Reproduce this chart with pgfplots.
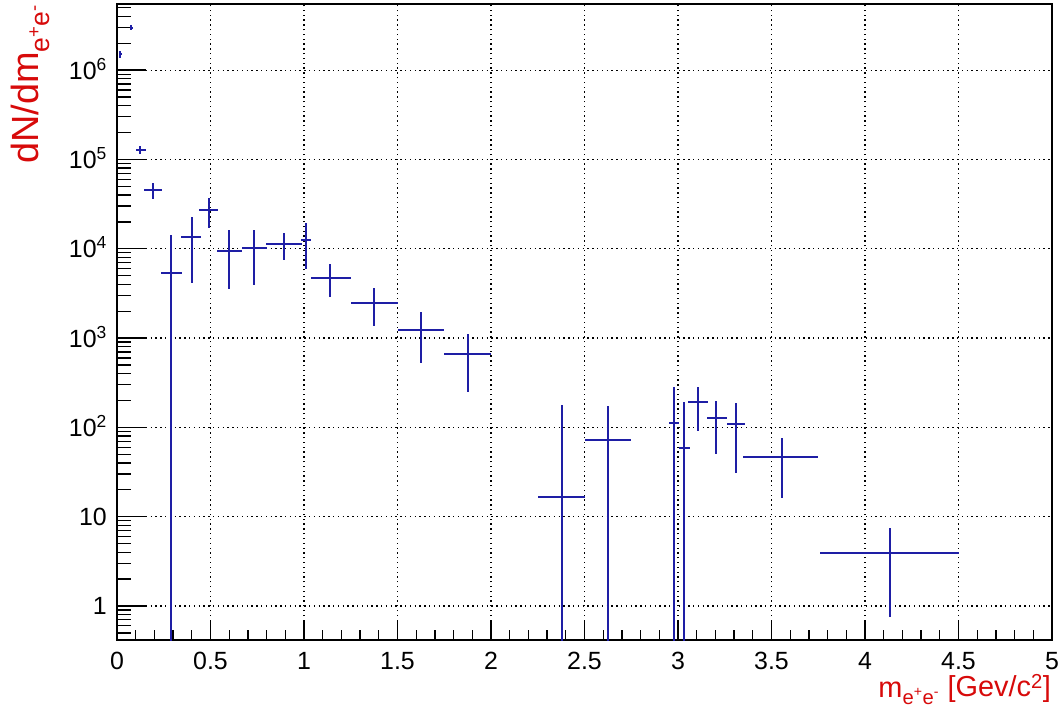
\documentclass[border=0pt]{standalone}
\usepackage{fontspec}
\setmainfont{Liberation Sans}
\usepackage{pgfplots}
\usepackage{pgfplotstable}
\pgfplotsset{compat=1.18}
\definecolor{rootblue}{RGB}{30,30,165}
\definecolor{rootred}{RGB}{215,10,10}

\pgfplotstableread{
x      y        exm    exp    eym      eyp
0.017  1.5e6    0.008  0.008  1.5e5    1.5e5
0.075  3.0e6    0.008  0.008  2e5      2e5
0.123  1.28e5   0.021  0.032  1.2e4    1.2e4
0.194  4.55e4   0.048  0.048  9e3      9e3
0.289  5.4e3    0.055  0.060  5399.9   8.7e3
0.400  1.35e4   0.058  0.049  9.4e3    9.4e3
0.490  2.7e4    0.050  0.050  1.0e4    1.0e4
0.599  9.5e3    0.066  0.068  6.0e3    6.7e3
0.733  1.03e4   0.066  0.067  6.4e3    5.9e3
0.895  1.12e4   0.100  0.093  3.7e3    3.7e3
1.011  1.25e4   0.027  0.025  6.5e3    6.7e3
1.139  4.75e3   0.103  0.111  1.85e3   2.0e3
1.374  2.45e3   0.124  0.126  1.08e3   1.22e3
1.626  1.23e3   0.126  0.124  708      710
1.879  669      0.129  0.121  418      431
2.381  16.6     0.131  0.119  16.5     162
2.627  72.8     0.127  0.123  72.7     102
2.979  113      0.026  0.026  112.9    173
3.030  58.3     0.025  0.034  58.2     133
3.105  191      0.050  0.055  99       95
3.203  128      0.048  0.057  78       71
3.312  109      0.052  0.048  78       77
3.554  47       0.204  0.196  31       30
4.132  3.95     0.372  0.368  3.2      3.46
}\datatable

\begin{document}
\begin{tikzpicture}
\useasboundingbox (0,0) rectangle (1062bp,711bp);
\begin{axis}[
  at={(117bp,71bp)}, anchor=south west,
  scale only axis, width=935bp, height=636bp,
  xmin=0, xmax=5,
  ymode=log, ymin=0.416, ymax=5.5e6,
  xtick={0,0.5,1,1.5,2,2.5,3,3.5,4,4.5,5},
  xticklabels={0,0.5,1,1.5,2,2.5,3,3.5,4,4.5,5},
  minor x tick num=4,
  ytick={1,10,100,1000,10000,100000,1000000},
  yticklabels={1,10,10\textsuperscript{2},10\textsuperscript{3},10\textsuperscript{4},10\textsuperscript{5},10\textsuperscript{6}},
  minor ytick={0.5,0.6,0.7,0.8,0.9,2,3,4,5,6,7,8,9,20,30,40,50,60,70,80,90,200,300,400,500,600,700,800,900,2000,3000,4000,5000,6000,7000,8000,9000,20000,30000,40000,50000,60000,70000,80000,90000,200000,300000,400000,500000,600000,700000,800000,900000,2000000,3000000,4000000,5000000},
  xtick pos=bottom, ytick pos=left,
  tick align=inside,
  xtick style={/pgfplots/major tick length=19bp,/pgfplots/minor tick length=10bp},
  ytick style={/pgfplots/major tick length=29bp,/pgfplots/minor tick length=14bp},
  major tick style={black, line width=1.3bp},
  minor tick style={black, line width=1.3bp},
  grid=major,
  major grid style={black, line width=1.1bp, dash pattern=on 1.3bp off 3.5bp},
  axis line style={black, line width=1.5bp},
  tick label style={font=\fontsize{25}{30}\selectfont},
  xticklabel style={anchor=north, inner sep=0pt, yshift=-12bp},
  yticklabel style={anchor=base east, inner sep=0pt, xshift=-10bp, yshift=-9bp},
]
\addplot[draw=none, mark=none,
  error bars/.cd, x dir=both, x explicit, y dir=both, y explicit,
  error mark=none, error bar style={draw=rootblue, line width=2bp}]
  table[x=x, y=y, x error plus=exp, x error minus=exm, y error plus=eyp, y error minus=eym] {\datatable};
\end{axis}
\node[rotate=90, anchor=base east, text=rootred, font=\fontsize{38}{44}\selectfont, inner sep=0pt]
  at (38bp,707bp) {dN/dm\textsubscript{e\textsuperscript{+}e\textsuperscript{-}}};
\node[anchor=base east, text=rootred, font=\fontsize{29}{35}\selectfont, inner sep=0pt]
  at (1051bp,14bp) {m\textsubscript{e\textsuperscript{+}e\textsuperscript{-}} [Gev/c\textsuperscript{2}]};
\end{tikzpicture}
\end{document}
